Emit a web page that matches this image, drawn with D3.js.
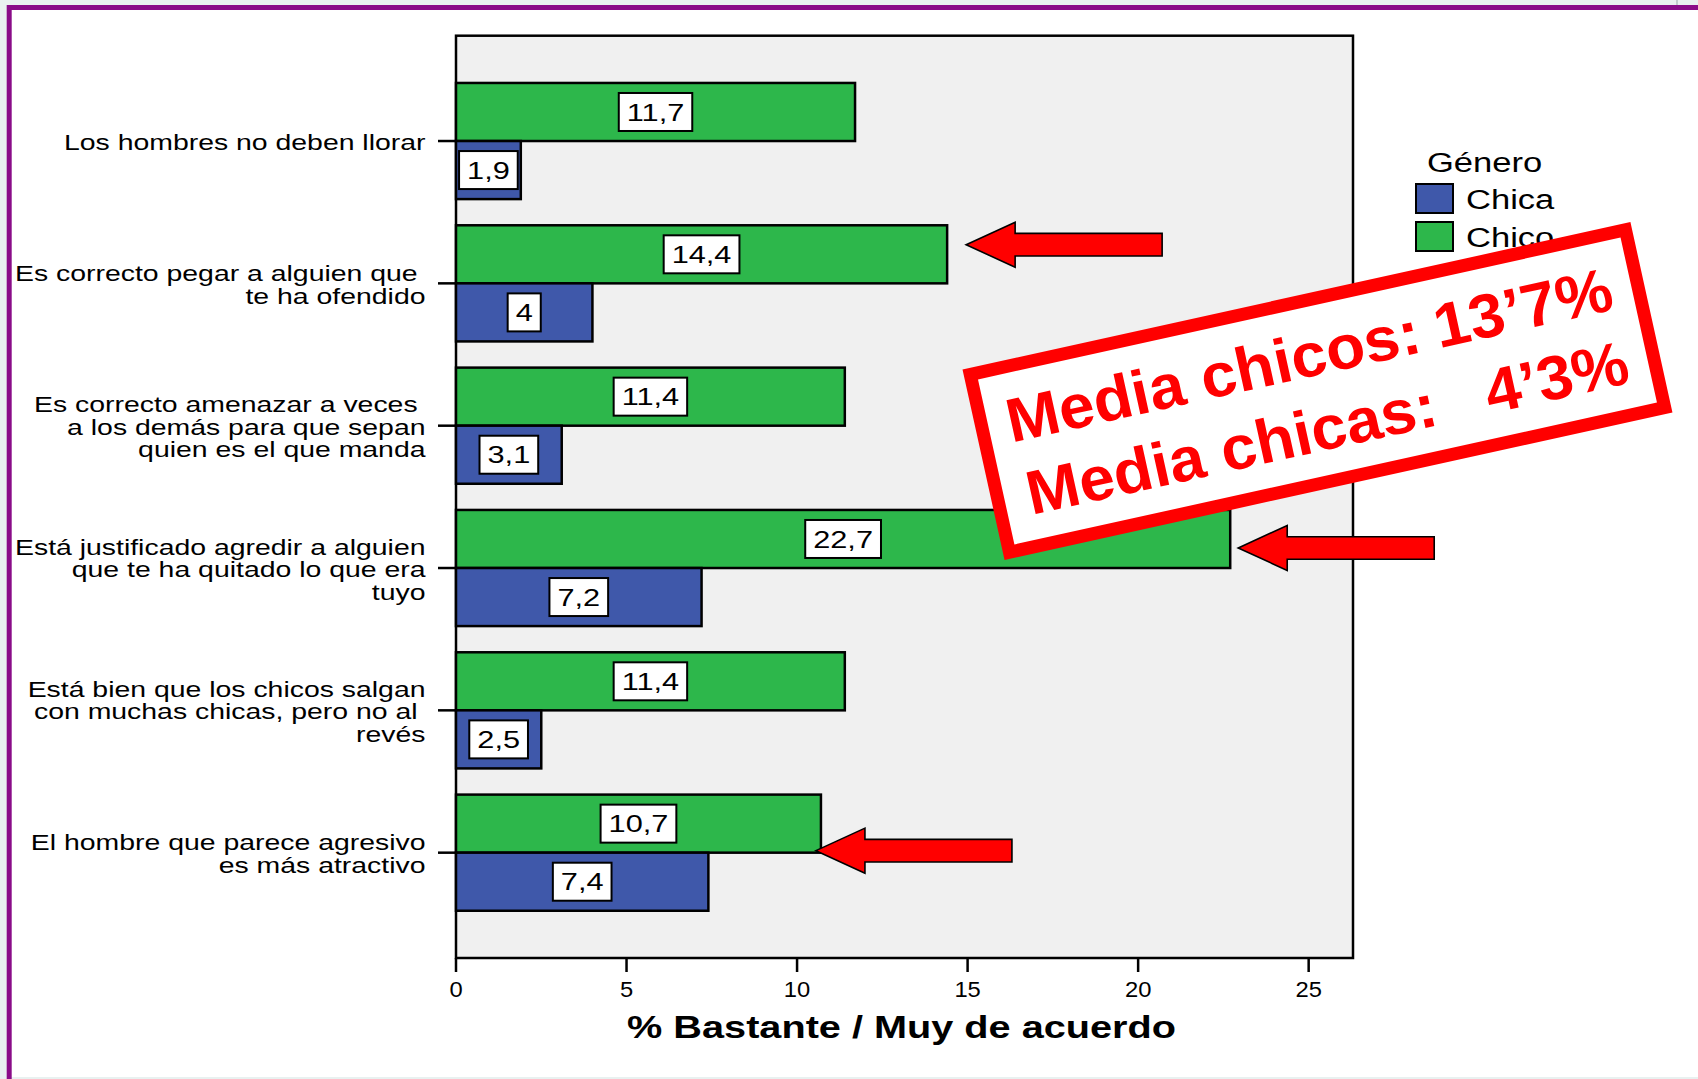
<!DOCTYPE html>
<html>
<head>
<meta charset="utf-8">
<script src="https://cdn.jsdelivr.net/npm/d3@7"></script>
<style>
  body { margin: 0; background: #e9f1f0; }
  svg { display: block; }
  text { font-family: "Liberation Sans", Arial, sans-serif; }
</style>
</head>
<body>
<svg id="chart"></svg>
<script>
// Chart data
var categories = [
  ["Los hombres no deben llorar"],
  ["Es correcto pegar a alguien que ", "te ha ofendido"],
  ["Es correcto amenazar a veces ", "a los demás para que sepan", "quien es el que manda"],
  ["Está justificado agredir a alguien", "que te ha quitado lo que era", "tuyo"],
  ["Está bien que los chicos salgan", "con muchas chicas, pero no al ", "revés"],
  ["El hombre que parece agresivo", "es más atractivo"]
];
var chico = [11.7, 14.4, 11.4, 22.7, 11.4, 10.7];
var chica = [1.9, 4, 3.1, 7.2, 2.5, 7.4];
var xTicks = [0, 5, 10, 15, 20, 25];
var seriesNames = ["Chica", "Chico"];
var legendTitle = "Género";
var axisTitle = "% Bastante / Muy de acuerdo";
var meanLabels = ["Media chicos:", "Media chicas:"];
var meanValues = ["13’7%", "4’3%"];
var arrowTargets = [1, 3, 5];   // categories the red arrows point at

var width = 1698, height = 1079;
var blue = "#3f58aa", green = "#2db74b", red = "#ff0000", purple = "#8a0c88";
var sx = 1.28;   // the source chart was stretched sideways

var svg = d3.select("#chart").attr("width", width).attr("height", height);

// slide background and frame
svg.append("rect").attr("width", width).attr("height", height).attr("fill", "#e9f1f0");
svg.append("rect").attr("x", 9).attr("y", 8).attr("width", width - 9).attr("height", height - 10).attr("fill", "#fff");
svg.append("line").attr("x1", 9).attr("x2", width).attr("y1", 7.5).attr("y2", 7.5)
   .attr("stroke", purple).attr("stroke-width", 5);
svg.append("line").attr("x1", 9.2).attr("x2", 9.2).attr("y1", 5).attr("y2", height)
   .attr("stroke", purple).attr("stroke-width", 5);
svg.append("line").attr("x1", 1677).attr("x2", 1677).attr("y1", 0).attr("y2", 5)
   .attr("stroke", "#9aa").attr("stroke-width", 1);

var plot = { left: 456, right: 1353, top: 35.7, bottom: 958 };

var x = d3.scaleLinear().domain([0, 26.3]).range([plot.left, plot.right]);
var y = d3.scalePoint().domain(d3.range(categories.length))
          .range([plot.top, plot.bottom]).padding(0.74);
var barH = y.step() * 0.408;

svg.append("rect")
   .attr("x", plot.left).attr("y", plot.top)
   .attr("width", plot.right - plot.left).attr("height", plot.bottom - plot.top)
   .attr("fill", "#f0f0f0").attr("stroke", "#000").attr("stroke-width", 2.5);

var rows = categories.map(function(c, i) {
  return [
    { cat: i, value: chico[i], color: green, y0: y(i) - barH },
    { cat: i, value: chica[i], color: blue, y0: y(i) }
  ];
});
var bars = d3.merge(rows);

svg.append("g").selectAll("rect")
   .data(bars)
   .enter()
   .append("rect")
   .attr("x", x(0))
   .attr("y", function(d) { return d.y0; })
   .attr("width", function(d) { return x(d.value) - x(0); })
   .attr("height", barH)
   .attr("fill", function(d) { return d.color; })
   .attr("stroke", "#000")
   .attr("stroke-width", 2.5);

// value boxes in the middle of each bar
var vals = svg.append("g").selectAll("g")
   .data(bars)
   .enter()
   .append("g")
   .attr("transform", function(d) {
     return "translate(" + (x(0) + x(d.value)) / 2 + "," + (d.y0 + barH / 2) + ")";
   });
vals.append("rect").attr("class", "box");
vals.append("text")
   .attr("transform", "translate(0,8.6) scale(" + sx + ",1)")
   .attr("text-anchor", "middle")
   .style("font-size", "24px")
   .text(function(d) { return String(d.value).replace(".", ","); });
vals.each(function() {
  var g = d3.select(this);
  var w = g.select("text").node().getComputedTextLength() * sx + 16;
  g.select("rect")
   .attr("x", -w / 2).attr("y", -19).attr("width", w).attr("height", 38)
   .attr("fill", "#fff").attr("stroke", "#000").attr("stroke-width", 2);
});

// x axis ticks under the frame
var xt = svg.append("g").selectAll("g")
   .data(xTicks)
   .enter()
   .append("g")
   .attr("transform", function(d) { return "translate(" + x(d) + ",0)"; });
xt.append("line").attr("y1", plot.bottom).attr("y2", plot.bottom + 14)
   .attr("stroke", "#000").attr("stroke-width", 2.5);
xt.append("text")
   .attr("transform", "translate(0,997) scale(1.08,1)")
   .attr("text-anchor", "middle")
   .style("font-size", "22px")
   .text(function(d) { return d; });

svg.append("text")
   .attr("transform", "translate(" + ((plot.left + plot.right) / 2 - 3) + ",1038) scale(1.28,1)")
   .attr("text-anchor", "middle")
   .style("font-size", "31px")
   .style("font-weight", "bold")
   .text(axisTitle);

// category ticks and labels
var cats = svg.append("g").selectAll("g")
   .data(categories)
   .enter()
   .append("g")
   .attr("transform", function(d, i) { return "translate(0," + y(i) + ")"; });
cats.append("line").attr("x1", plot.left - 18).attr("x2", plot.left)
   .attr("stroke", "#000").attr("stroke-width", 2.5);
cats.each(function(lines) {
  var g = d3.select(this);
  lines.forEach(function(s, j) {
    var dy = (j - (lines.length - 1) / 2) * 22.5 + 9;
    g.append("text")
     .attr("transform", "translate(425.5," + dy + ") scale(" + sx + ",1)")
     .attr("text-anchor", "end")
     .style("font-size", "22.2px")
     .style("white-space", "pre")
     .text(s);
  });
});

// legend
var legend = svg.append("g").attr("transform", "translate(1416,0)");
legend.append("text")
   .attr("transform", "translate(11,172) scale(" + sx + ",1)")
   .style("font-size", "27px")
   .text(legendTitle);
var li = legend.selectAll("g.item")
   .data(seriesNames)
   .enter()
   .append("g")
   .attr("class", "item")
   .attr("transform", function(d, i) { return "translate(0," + (184 + i * 38) + ")"; });
li.append("rect").attr("width", 37).attr("height", 29)
   .attr("fill", function(d, i) { return i === 0 ? blue : green; })
   .attr("stroke", "#000").attr("stroke-width", 2);
li.append("text")
   .attr("transform", "translate(50,25) scale(" + sx + ",1)")
   .style("font-size", "27px")
   .text(function(d) { return d; });

// red arrows pointing at the boys' bars
var arrowGap = [19, 8, -5], arrowDy = [-9.6, 9, 27];
var arrowPath = "M0,0 L49,-22.5 L49,-11.3 L196,-11.3 L196,11.3 L49,11.3 L49,22.5 Z";
svg.append("g").selectAll("path")
   .data(arrowTargets)
   .enter()
   .append("path")
   .attr("d", arrowPath)
   .attr("transform", function(c, i) {
     return "translate(" + (x(chico[c]) + arrowGap[i]) + "," + (y(c) - barH / 2 + arrowDy[i]) + ")";
   })
   .attr("fill", red)
   .attr("stroke", "#000")
   .attr("stroke-width", 1.6);

// stamped box with the means
var stamp = svg.append("g").attr("transform", "translate(962.5,369.5) rotate(-12.45)");
stamp.append("rect")
   .attr("x", 6.5).attr("y", 6.5).attr("width", 671).attr("height", 182)
   .attr("fill", "#fff").attr("stroke", red).attr("stroke-width", 13);
var baselines = [82, 157], starts = [32, 36];
stamp.selectAll("text.lab")
   .data(meanLabels)
   .enter()
   .append("text")
   .attr("class", "lab")
   .attr("transform", function(d, i) { return "translate(" + starts[i] + "," + baselines[i] + ") scale(1.03,1)"; })
   .attr("fill", red)
   .style("font-size", "62px")
   .style("font-weight", "bold")
   .text(function(d) { return d; });
stamp.selectAll("text.val")
   .data(meanValues)
   .enter()
   .append("text")
   .attr("class", "val")
   .attr("transform", function(d, i) { return "translate(651," + baselines[i] + ") scale(1.03,1)"; })
   .attr("text-anchor", "end")
   .attr("fill", red)
   .style("font-size", "62px")
   .style("font-weight", "bold")
   .text(function(d) { return d; });
</script>
</body>
</html>
